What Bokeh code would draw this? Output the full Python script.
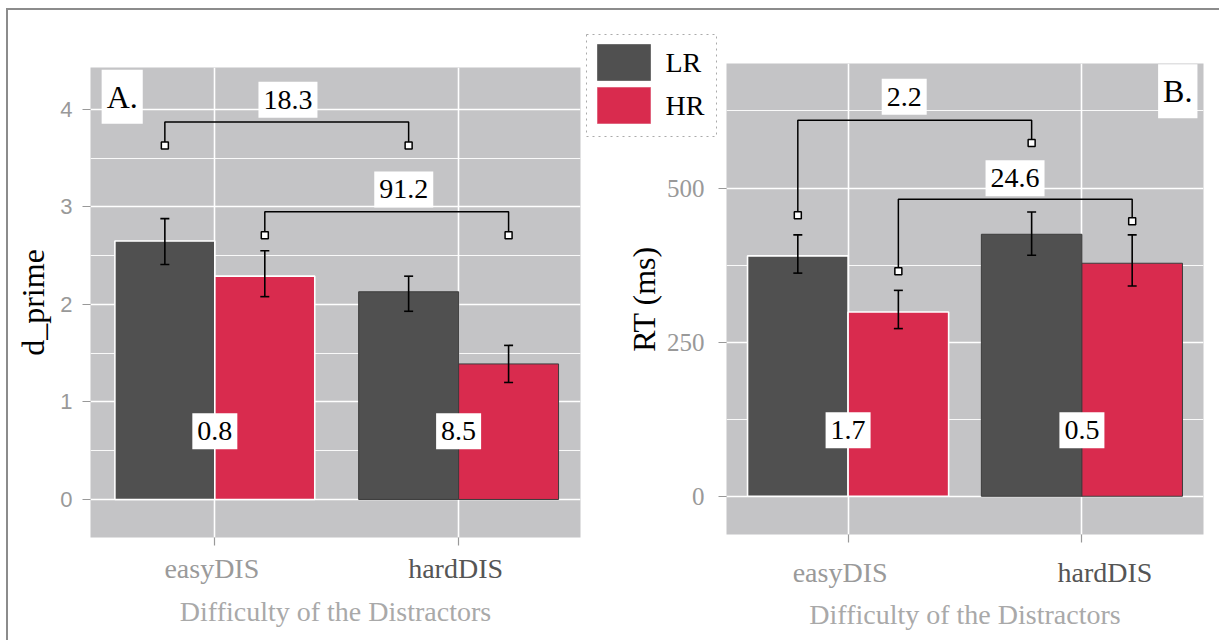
from bokeh.plotting import figure
from bokeh.models import ColumnDataSource, Whisker, TeeHead, FixedTicker, Range1d
from bokeh.layouts import row, column
from bokeh.core.properties import value
from bokeh.embed import file_html
from bokeh.resources import INLINE

# ---------------- data ----------------
categories = ["easyDIS", "hardDIS"]
groups = ["LR", "HR"]

# Panel A: d_prime
dp_LR = [2.65, 2.13]
dp_HR = [2.29, 1.39]
dp_LR_lo = [2.41, 1.93]
dp_LR_hi = [2.88, 2.29]
dp_HR_lo = [2.08, 1.20]
dp_HR_hi = [2.55, 1.58]
dp_ticks = [0, 1, 2, 3, 4]
dp_minor = [0.5, 1.5, 2.5, 3.5]
dp_brk_text = ["18.3", "91.2"]
dp_brk_group = ["LR", "HR"]
dp_brk_top = [3.87, 2.95]
dp_brk_left = [3.63, 2.71]
dp_brk_right = [3.63, 2.71]
dp_brk_lab_x = [1.30, 1.775]
dp_brk_lab_y = [4.10, 3.18]
dp_in_text = ["0.8", "8.5"]
dp_in_y = [0.70, 0.70]

# Panel B: RT
rt_LR = [390, 425]
rt_HR = [299, 378]
rt_LR_lo = [362, 391]
rt_LR_hi = [424, 461]
rt_HR_lo = [272, 341]
rt_HR_hi = [334, 424]
rt_ticks = [0, 250, 500]
rt_minor = [125, 375, 625]
rt_brk_text = ["2.2", "24.6"]
rt_brk_group = ["LR", "HR"]
rt_brk_top = [610, 482]
rt_brk_left = [456, 365]
rt_brk_right = [573, 446]
rt_brk_lab_x = [1.24, 1.714]
rt_brk_lab_y = [648, 516]
rt_in_text = ["1.7", "0.5"]
rt_in_y = [107, 107]

# ---------------- style ----------------
BG = "#c4c4c6"
DARK = "#505050"
RED = "#d92b4e"
SERIF = "Liberation Serif"
SANS = "Liberation Sans"
TICKC = "#999999"
CAT_COLORS = ["#9a9a9a", "#555555"]
H = 630


def make_panel(w, bl, br, bt, bb, xr, yr, bar_w,
               LR, HR, LR_lo, LR_hi, HR_lo, HR_hi, ticks, minor,
               brk_text, brk_group, brk_top, brk_left, brk_right, brk_lx, brk_ly,
               in_text, in_y, panel_tag, tag_x, tag_y,
               ylabel, tick_font, tick_size, tick_standoff, ylab_standoff, xlab_standoff,
               border_alpha=1.0):
    p = figure(width=w, height=H, x_range=Range1d(*xr), y_range=Range1d(*yr),
               output_backend="svg", toolbar_location=None,
               min_border_left=bl, min_border_right=br, min_border_top=bt, min_border_bottom=bb,
               background_fill_color=BG, border_fill_color="white",
               border_fill_alpha=border_alpha, outline_line_color=None)
    off = bar_w / 2
    yt = FixedTicker(ticks=ticks, minor_ticks=minor)
    xt = FixedTicker(ticks=[1, 2], minor_ticks=[])
    p.yaxis.ticker = yt
    p.ygrid.ticker = yt
    p.xaxis.ticker = xt
    p.xgrid.ticker = xt
    for g in (p.xgrid, p.ygrid):
        g.grid_line_color = "white"
        g.grid_line_width = 1.6
    p.ygrid.minor_grid_line_color = "white"
    p.ygrid.minor_grid_line_width = 0.9

    for ax in (p.xaxis, p.yaxis):
        ax.axis_line_color = None
        ax.major_tick_line_color = TICKC
        ax.major_tick_line_width = 1.2
        ax.major_tick_out = 8
        ax.major_tick_in = 0
        ax.minor_tick_line_color = None
    p.yaxis.major_label_text_font = tick_font
    p.yaxis.major_label_text_font_size = tick_size
    p.yaxis.major_label_text_color = TICKC
    p.yaxis.major_label_standoff = tick_standoff
    p.yaxis.axis_label = ylabel
    p.yaxis.axis_label_text_font = SERIF
    p.yaxis.axis_label_text_font_size = "32px"
    p.yaxis.axis_label_text_font_style = "normal"
    p.yaxis.axis_label_text_color = "black"
    p.yaxis.axis_label_standoff = ylab_standoff

    p.xaxis.major_label_overrides = {1: "", 2: ""}
    p.xaxis.axis_label = "Difficulty of the Distractors"
    p.xaxis.axis_label_text_font = SERIF
    p.xaxis.axis_label_text_font_size = "28px"
    p.xaxis.axis_label_text_font_style = "normal"
    p.xaxis.axis_label_text_color = "#a9a9a9"
    p.xaxis.axis_label_standoff = xlab_standoff

    xs, tops, fills, lcs, lws, los, his = [], [], [], [], [], [], []
    for i, c in enumerate(categories):
        for gname, vals, lo, hi, col in (("LR", LR, LR_lo, LR_hi, DARK), ("HR", HR, HR_lo, HR_hi, RED)):
            xs.append(i + 1 + (-off if gname == "LR" else off))
            tops.append(vals[i])
            fills.append(col)
            lcs.append("white" if c == "easyDIS" else "#3c3c3c")
            lws.append(1.6 if c == "easyDIS" else 1.0)
            los.append(lo[i])
            his.append(hi[i])
    src = ColumnDataSource(dict(x=xs, top=tops, fill=fills, lc=lcs, lw=lws, lo=los, hi=his))
    p.vbar(x="x", top="top", bottom=0, width=bar_w, fill_color="fill", line_color="lc",
           line_width="lw", source=src)
    wh = Whisker(source=src, base="x", upper="hi", lower="lo", line_color="black", line_width=1.6,
                 level="overlay",
                 upper_head=TeeHead(size=9, line_color="black", line_width=1.6),
                 lower_head=TeeHead(size=9, line_color="black", line_width=1.6))
    p.add_layout(wh)

    bxs, bys, sqx, sqy = [], [], [], []
    for k in range(len(brk_text)):
        o = -off if brk_group[k] == "LR" else off
        x1, x2 = 1 + o, 2 + o
        bxs.append([x1, x1, x2, x2])
        bys.append([brk_left[k], brk_top[k], brk_top[k], brk_right[k]])
        sqx += [x1, x2]
        sqy += [brk_left[k], brk_right[k]]
    p.multi_line(xs=bxs, ys=bys, line_color="black", line_width=1.5)
    p.scatter(x=sqx, y=sqy, marker="square", size=7, fill_color="white",
              line_color="black", line_width=1.5)

    txt_kw = dict(text_font=value(SERIF), text_align="center", text_baseline="middle",
                  text_color="black", background_fill_color="white", border_line_color=None)
    p.text(x=brk_lx, y=brk_ly, text=brk_text, text_font_size="28px", padding=(5, 9), **txt_kw)
    p.text(x=[1, 2], y=in_y, text=in_text, text_font_size="28px", padding=(5, 9), **txt_kw)
    p.text(x=[tag_x], y=[tag_y], text=[panel_tag], text_font_size="32px", padding=(5, 9), **txt_kw)
    return p


def overlay_margin(t, h):
    # place a child of a column at offset t (from the top of the panel) without
    # changing the column's total height
    return (t - H, 0, H - t - h, 0)


def label_strip(p, w, bl, br, offsets, t, h=36):
    """Transparent strip laid over the panel's bottom margin that carries the
    two differently coloured category labels."""
    s = figure(width=w, height=h, x_range=p.x_range, y_range=Range1d(0, 1),
               output_backend="svg", toolbar_location=None, x_axis_type=None, y_axis_type=None,
               min_border_left=bl, min_border_right=br, min_border_top=0, min_border_bottom=0,
               background_fill_alpha=0, border_fill_alpha=0, outline_line_color=None)
    s.text(x=[1, 2], y=[0.5, 0.5], text=categories, x_offset=offsets,
           text_color=CAT_COLORS, text_font=value(SERIF), text_font_size="28px",
           text_align="center", text_baseline="middle")
    s.margin = overlay_margin(t, h)
    return s


WA, WB = 578, 633
pA = make_panel(WA, 82, 6, 57, 103, (0.49, 2.5), (-0.39, 4.43), 0.41,
                dp_LR, dp_HR, dp_LR_lo, dp_LR_hi, dp_HR_lo, dp_HR_hi, dp_ticks, dp_minor,
                dp_brk_text, dp_brk_group, dp_brk_top, dp_brk_left, dp_brk_right,
                dp_brk_lab_x, dp_brk_lab_y, dp_in_text, dp_in_y, "A.", 0.62, 4.13,
                "d_prime", SANS, "22px", 10, 6, 50)

pB = make_panel(WB, 140, 16, 53, 106, (0.48, 2.52), (-62, 702), 0.43,
                rt_LR, rt_HR, rt_LR_lo, rt_LR_hi, rt_HR_lo, rt_HR_hi, rt_ticks, rt_minor,
                rt_brk_text, rt_brk_group, rt_brk_top, rt_brk_left, rt_brk_right,
                rt_brk_lab_x, rt_brk_lab_y, rt_in_text, rt_in_y, "B.", 2.41, 657,
                "RT (ms)", SERIF, "25px", 14, 2, 56, border_alpha=0.0)

sA = label_strip(pA, WA, 82, 6, [-3, -3], 540)
sB = label_strip(pB, WB, 140, 16, [-8, 23], 544)

# legend key in its own small box; panel B (transparent margins) is laid over it
LW, LH = 131, 103
pL = figure(width=LW, height=LH, x_range=Range1d(0, LW), y_range=Range1d(0, LH),
            output_backend="svg", toolbar_location=None, x_axis_type=None, y_axis_type=None,
            min_border_left=0, min_border_right=0, min_border_top=0, min_border_bottom=0,
            background_fill_color="white", border_fill_color="white",
            outline_line_color="#aaaaaa", outline_line_dash="dotted", outline_line_width=1)
key_fill = [DARK, RED]
key_line = ["#6e6e6e", "#e0647e"]
key_rows = [1, 0]          # LR on the upper row, HR on the lower row
sw_l, sw_w, sw_h, row_h, pad_b = 11, 53, 36, 43, 14
pL.quad(left=[sw_l] * 2, right=[sw_l + sw_w] * 2,
        bottom=[pad_b + r * row_h for r in key_rows],
        top=[pad_b + r * row_h + sw_h for r in key_rows],
        fill_color=key_fill, line_color=key_line, line_width=1)
pL.text(x=[sw_l + sw_w + 15] * 2, y=[pad_b + r * row_h + sw_h / 2 for r in key_rows],
        text=groups, text_font=value(SERIF), text_font_size="28px", text_color="black",
        text_align="left", text_baseline="middle")
pL.margin = (24, 0, 0, 0)

colA = column(pA, sA)
colB = column(pB, sB)
colB.margin = (0, 0, 0, -LW)
layout = row(colA, pL, colB, margin=(8, 0, 0, 6),
             styles={"border-top": "2px solid #8c8c8c", "border-left": "2px solid #8c8c8c"})

open("out.html", "w").write(file_html(layout, INLINE))
